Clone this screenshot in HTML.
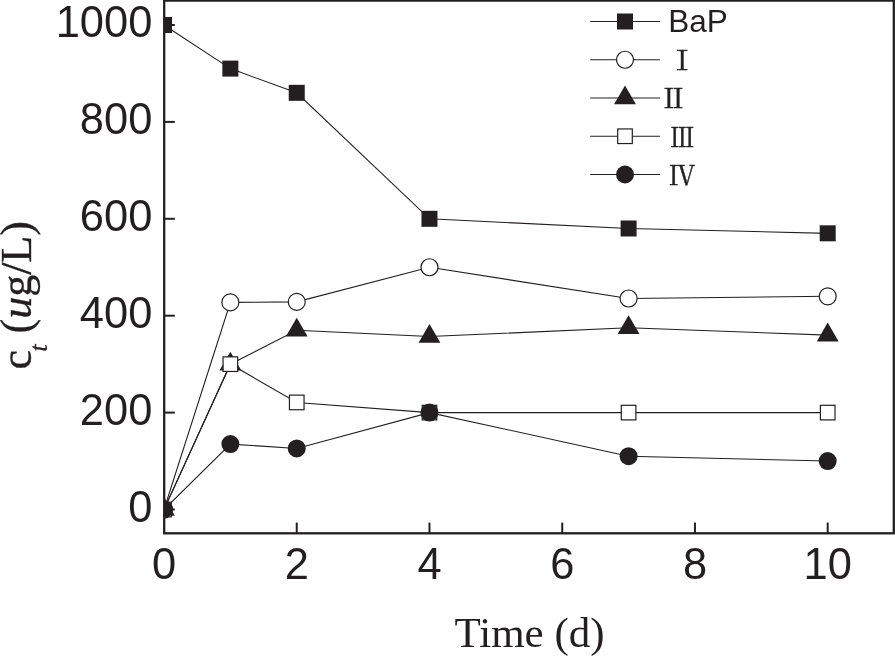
<!DOCTYPE html>
<html lang="en"><head><meta charset="utf-8"><title>BaP degradation</title>
<style>
html,body{margin:0;padding:0;background:#fff}
body{width:895px;height:656px;overflow:hidden}
svg{display:block}
.sans{font-family:"Liberation Sans","Noto Sans CJK SC",sans-serif}
.serif{font-family:"Liberation Serif","Noto Serif CJK SC",serif}
.rn{font-family:"Liberation Serif","Noto Serif CJK SC",serif;font-weight:400;stroke:#231f20;stroke-width:0.5px}
</style></head><body>
<svg width="895" height="656" viewBox="0 0 895 656">
<rect width="895" height="656" fill="#fff"/>
<defs><clipPath id="plot"><rect x="164.2" y="0" width="730" height="534"/></clipPath></defs>

<g clip-path="url(#plot)">
<path d="M164.00 25.00 L230.37 68.61 L296.74 92.83 L429.48 218.80 L628.59 228.49 L827.70 233.33" fill="none" stroke="#231f20" stroke-width="1.1"/>
<rect x="156.00" y="17.00" width="16" height="16" fill="#231f20"/>
<rect x="222.37" y="60.61" width="16" height="16" fill="#231f20"/>
<rect x="288.74" y="84.83" width="16" height="16" fill="#231f20"/>
<rect x="421.48" y="210.80" width="16" height="16" fill="#231f20"/>
<rect x="620.59" y="220.49" width="16" height="16" fill="#231f20"/>
<rect x="819.70" y="225.33" width="16" height="16" fill="#231f20"/>
<path d="M164.00 509.50 L230.37 302.38 L296.74 301.89 L429.48 267.25 L628.59 298.50 L827.70 296.32" fill="none" stroke="#231f20" stroke-width="1.1"/>
<circle cx="164.00" cy="509.50" r="8.5" fill="#fff" stroke="#231f20" stroke-width="1.2"/>
<circle cx="230.37" cy="302.38" r="8.5" fill="#fff" stroke="#231f20" stroke-width="1.2"/>
<circle cx="296.74" cy="301.89" r="8.5" fill="#fff" stroke="#231f20" stroke-width="1.2"/>
<circle cx="429.48" cy="267.25" r="8.5" fill="#fff" stroke="#231f20" stroke-width="1.2"/>
<circle cx="628.59" cy="298.50" r="8.5" fill="#fff" stroke="#231f20" stroke-width="1.2"/>
<circle cx="827.70" cy="296.32" r="8.5" fill="#fff" stroke="#231f20" stroke-width="1.2"/>
<path d="M164.00 509.50 L230.37 364.15 L296.74 330.24 L429.48 336.53 L628.59 327.81 L827.70 335.08" fill="none" stroke="#231f20" stroke-width="1.1"/>
<path d="M164.00 497.00L174.90 515.80L153.10 515.80Z" fill="#231f20"/>
<path d="M230.37 351.65L241.27 370.45L219.47 370.45Z" fill="#231f20"/>
<path d="M296.74 317.74L307.64 336.54L285.84 336.54Z" fill="#231f20"/>
<path d="M429.48 324.03L440.38 342.83L418.58 342.83Z" fill="#231f20"/>
<path d="M628.59 315.31L639.49 334.11L617.69 334.11Z" fill="#231f20"/>
<path d="M827.70 322.58L838.60 341.38L816.80 341.38Z" fill="#231f20"/>
<path d="M164.00 509.50 L230.37 364.15 L296.74 402.43 L429.48 412.60 L628.59 412.60 L827.70 412.60" fill="none" stroke="#231f20" stroke-width="1.1"/>
<rect x="156.70" y="502.20" width="14.6" height="14.6" fill="#fff" stroke="#231f20" stroke-width="1.2"/>
<rect x="223.07" y="356.85" width="14.6" height="14.6" fill="#fff" stroke="#231f20" stroke-width="1.2"/>
<rect x="289.44" y="395.13" width="14.6" height="14.6" fill="#fff" stroke="#231f20" stroke-width="1.2"/>
<rect x="422.18" y="405.30" width="14.6" height="14.6" fill="#fff" stroke="#231f20" stroke-width="1.2"/>
<rect x="621.29" y="405.30" width="14.6" height="14.6" fill="#fff" stroke="#231f20" stroke-width="1.2"/>
<rect x="820.40" y="405.30" width="14.6" height="14.6" fill="#fff" stroke="#231f20" stroke-width="1.2"/>
<path d="M164.00 509.50 L230.37 444.09 L296.74 448.45 L429.48 412.60 L628.59 456.20 L827.70 461.05" fill="none" stroke="#231f20" stroke-width="1.1"/>
<circle cx="164.00" cy="509.50" r="9" fill="#231f20"/>
<circle cx="230.37" cy="444.09" r="9" fill="#231f20"/>
<circle cx="296.74" cy="448.45" r="9" fill="#231f20"/>
<circle cx="429.48" cy="412.60" r="9" fill="#231f20"/>
<circle cx="628.59" cy="456.20" r="9" fill="#231f20"/>
<circle cx="827.70" cy="461.05" r="9" fill="#231f20"/>
</g>
<rect x="164.2" y="0.6" width="729.6" height="532.7" fill="none" stroke="#231f20" stroke-width="2.3"/>
<line x1="296.74" y1="533.3" x2="296.74" y2="522.6" stroke="#231f20" stroke-width="2"/>
<line x1="429.48" y1="533.3" x2="429.48" y2="522.6" stroke="#231f20" stroke-width="2"/>
<line x1="562.22" y1="533.3" x2="562.22" y2="522.6" stroke="#231f20" stroke-width="2"/>
<line x1="694.96" y1="533.3" x2="694.96" y2="522.6" stroke="#231f20" stroke-width="2"/>
<line x1="827.70" y1="533.3" x2="827.70" y2="522.6" stroke="#231f20" stroke-width="2"/>
<line x1="164.2" y1="509.50" x2="174.8" y2="509.50" stroke="#231f20" stroke-width="2"/>
<line x1="164.2" y1="412.60" x2="174.8" y2="412.60" stroke="#231f20" stroke-width="2"/>
<line x1="164.2" y1="315.70" x2="174.8" y2="315.70" stroke="#231f20" stroke-width="2"/>
<line x1="164.2" y1="218.80" x2="174.8" y2="218.80" stroke="#231f20" stroke-width="2"/>
<line x1="164.2" y1="121.90" x2="174.8" y2="121.90" stroke="#231f20" stroke-width="2"/>
<line x1="164.2" y1="25.00" x2="174.8" y2="25.00" stroke="#231f20" stroke-width="2"/>
<text class="sans" transform="translate(152.3 521.50) scale(0.955 0.985)" font-size="45.5" text-anchor="end" fill="#231f20">0</text>
<text class="sans" transform="translate(152.3 424.60) scale(0.955 0.985)" font-size="45.5" text-anchor="end" fill="#231f20">200</text>
<text class="sans" transform="translate(152.3 327.70) scale(0.955 0.985)" font-size="45.5" text-anchor="end" fill="#231f20">400</text>
<text class="sans" transform="translate(152.3 230.80) scale(0.955 0.985)" font-size="45.5" text-anchor="end" fill="#231f20">600</text>
<text class="sans" transform="translate(152.3 133.90) scale(0.955 0.985)" font-size="45.5" text-anchor="end" fill="#231f20">800</text>
<text class="sans" transform="translate(152.3 37.00) scale(0.955 0.985)" font-size="45.5" text-anchor="end" fill="#231f20">1000</text>
<text class="sans" transform="translate(164.00 579.0) scale(0.955 0.985)" font-size="45.5" text-anchor="middle" fill="#231f20">0</text>
<text class="sans" transform="translate(296.74 579.0) scale(0.955 0.985)" font-size="45.5" text-anchor="middle" fill="#231f20">2</text>
<text class="sans" transform="translate(429.48 579.0) scale(0.955 0.985)" font-size="45.5" text-anchor="middle" fill="#231f20">4</text>
<text class="sans" transform="translate(562.22 579.0) scale(0.955 0.985)" font-size="45.5" text-anchor="middle" fill="#231f20">6</text>
<text class="sans" transform="translate(694.96 579.0) scale(0.955 0.985)" font-size="45.5" text-anchor="middle" fill="#231f20">8</text>
<text class="sans" transform="translate(827.70 579.0) scale(0.955 0.985)" font-size="45.5" text-anchor="middle" fill="#231f20">10</text>
<text class="serif" x="529.5" y="646.5" font-size="43" text-anchor="middle" fill="#231f20">Time (d)</text>
<text class="serif" transform="translate(30.7 369.5) rotate(-90)" font-size="44" fill="#231f20" stroke="#231f20" stroke-width="0.35">c<tspan font-size="25" font-style="italic" dy="16.5" dx="-1.5">t</tspan><tspan dy="-16.5" dx="0"> (</tspan><tspan font-style="italic">u</tspan>g/L)</text>
<line x1="590.2" y1="21.5" x2="659.9" y2="21.5" stroke="#231f20" stroke-width="1"/>
<rect x="617.00" y="13.50" width="16" height="16" fill="#231f20"/>
<line x1="590.2" y1="59.75" x2="659.9" y2="59.75" stroke="#231f20" stroke-width="1"/>
<circle cx="625.00" cy="59.75" r="8.5" fill="#fff" stroke="#231f20" stroke-width="1.2"/>
<line x1="590.2" y1="98.0" x2="659.9" y2="98.0" stroke="#231f20" stroke-width="1"/>
<path d="M625.00 85.50L635.90 104.30L614.10 104.30Z" fill="#231f20"/>
<line x1="590.2" y1="136.25" x2="659.9" y2="136.25" stroke="#231f20" stroke-width="1"/>
<rect x="617.70" y="128.95" width="14.6" height="14.6" fill="#fff" stroke="#231f20" stroke-width="1.2"/>
<line x1="590.2" y1="174.5" x2="659.9" y2="174.5" stroke="#231f20" stroke-width="1"/>
<circle cx="625.00" cy="174.50" r="9" fill="#231f20"/>
<text class="sans" x="668.2" y="32.2" font-size="31.5" fill="#231f20">BaP</text>
<text class="rn" transform="translate(682.3 70.4) scale(1.0 0.93)" font-size="28" text-anchor="middle" fill="#231f20">Ⅰ</text>
<text class="rn" transform="translate(673.5 108.4) scale(1.0 0.93)" font-size="28" text-anchor="middle" fill="#231f20">Ⅱ</text>
<text class="rn" transform="translate(682.35 146.8) scale(0.86 0.93)" font-size="28" text-anchor="middle" fill="#231f20">Ⅲ</text>
<text class="rn" transform="translate(682.25 185.2) scale(0.93 0.93)" font-size="28" text-anchor="middle" fill="#231f20">Ⅳ</text>
</svg></body></html>
